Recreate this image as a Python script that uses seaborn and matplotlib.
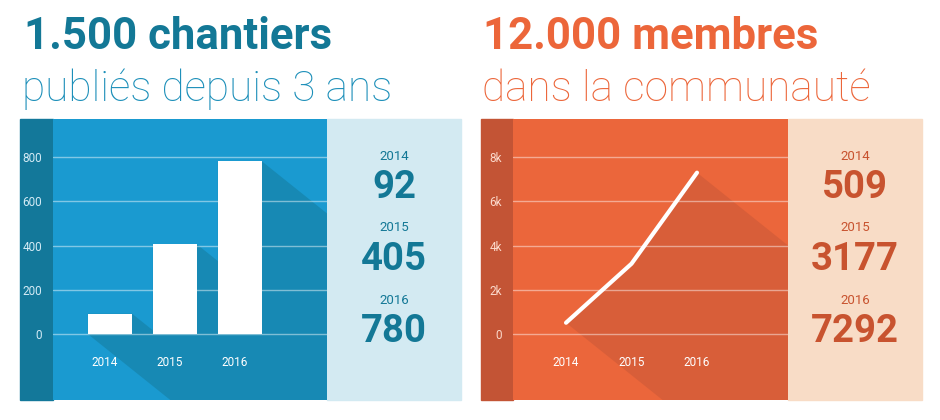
import numpy as np
import pandas as pd
import matplotlib.pyplot as plt
from matplotlib.patches import Rectangle, Polygon
from matplotlib.ticker import FuncFormatter
import seaborn as sns

# Data
years = ['2014', '2015', '2016']
chantiers = [92, 405, 780]
membres = [509, 3177, 7292]

# Colours
blue_bg = '#1a9ad0'
blue_dark = '#13789a'
blue_shadow = '#1789b4'
blue_light = '#d3eaf2'
blue_text = '#137896'
blue_sub = '#1c8fb9'
orange_bg = '#eb663b'
orange_dark = '#c35435'
orange_shadow = '#d85e39'
orange_light = '#f8dcc6'
orange_text = '#ec663a'
orange_val = '#c8532f'

sns.set_theme(style='white')
plt.rcParams['font.family'] = ['Roboto', 'DejaVu Sans']

W, H = 940, 420
fig = plt.figure(figsize=(9.4, 4.2), dpi=100)


def fx(px):
    return px / W


def fy(py):
    return 1 - py / H


def long_shadow(ax, front, back_pts, color, length=600, slope=0.8):
    # sweep points down-right in pixel space
    disp = ax.transData.transform(back_pts)
    shifted = disp + np.array([length, -slope * length])
    back = ax.transData.inverted().transform(shifted)
    poly = np.vstack([front, back])
    ax.add_patch(Polygon(poly, closed=True, facecolor=color, edgecolor='none', zorder=1))


def setup_panel(x0, x_axes, x_light, x_end, dark, light):
    top, bottom = 119, 400
    fig.patches.append(Rectangle((fx(x0), fy(bottom)), fx(x_axes - x0), (bottom - top) / H,
                                 transform=fig.transFigure, color=dark, zorder=-2))
    fig.patches.append(Rectangle((fx(x_light), fy(bottom)), fx(x_end - x_light), (bottom - top) / H,
                                 transform=fig.transFigure, color=light, zorder=-2))
    ax = fig.add_axes([fx(x_axes), fy(bottom), fx(x_light - x_axes), (bottom - top) / H])
    return ax


def style_axes(ax, bg, tick_color, yticks, shift=0.0):
    ax.set_facecolor(bg)
    for s in ax.spines.values():
        s.set_visible(False)
    ax.set_yticks(yticks)
    ax.set_xticks([])
    ax.tick_params(axis='y', length=0, pad=8, labelsize=8.5, labelcolor=tick_color)
    for t in yticks:
        ax.axhline(t, color='white', alpha=0.45, lw=1, zorder=2)
    ax.set_xlabel('')
    ax.set_ylabel('')
    for i, y in enumerate(years):
        ax.text(i + shift, 0.135, y, transform=ax.get_xaxis_transform(),
                ha='center', va='center', fontsize=8.5, color='white', zorder=5)


# Left panel: bars
ax1 = setup_panel(20, 53, 327, 461, blue_dark, blue_light)
df1 = pd.DataFrame({'year': years, 'value': chantiers})
sns.barplot(data=df1, x='year', y='value', ax=ax1, color='white', width=0.68,
            saturation=1, edgecolor='none', zorder=3)
ax1.set_xlim(-0.877, 3.34)
ax1.set_ylim(-298, 972)
style_axes(ax1, blue_bg, '#d4ebf5', [0, 200, 400, 600, 800], shift=-0.08)
for i, v in enumerate(chantiers):
    x0, x1 = i - 0.34, i + 0.34
    long_shadow(ax1, np.array([[x0, 0], [x0, v], [x1, v]]),
                np.array([[x1, v], [x1, 0], [x0, 0]]), blue_shadow)

# Right panel: line
ax2 = setup_panel(481, 513, 788, 922, orange_dark, orange_light)
df2 = pd.DataFrame({'pos': np.arange(len(years)), 'value': membres})
sns.lineplot(data=df2, x='pos', y='value', ax=ax2, color='white', lw=3, zorder=4)
ax2.set_xlim(-0.81, 3.39)
ax2.set_ylim(-2983, 9718)
style_axes(ax2, orange_bg, '#fbd9cb', [0, 2000, 4000, 6000, 8000])
ax2.yaxis.set_major_formatter(FuncFormatter(lambda v, p: '0' if v == 0 else f'{int(v / 1000)}k'))
pts = df2[['pos', 'value']].to_numpy(dtype=float)
long_shadow(ax2, pts, pts[[-1, 0]], orange_shadow)

# Value columns
for xc, vals, c_val in [(394, chantiers, blue_text), (855, membres, orange_val)]:
    for y_year, y_val, yr, v in zip([157, 228, 301], [188, 259, 332], years, vals):
        fig.text(fx(xc), fy(y_year), yr, ha='center', va='center', fontsize=9.5, color=c_val)
        fig.text(fx(xc), fy(y_val), str(v), ha='center', va='center', fontsize=27.5,
                 fontweight='bold', color=c_val)

# Titles
fig.text(fx(24), fy(49), '1.500 chantiers', fontsize=31.5, fontweight='bold', color=blue_text,
         va='baseline', ha='left')
fig.text(fx(22), fy(101), 'publiés depuis 3 ans', fontsize=30.5, fontweight=100, color=blue_sub,
         va='baseline', ha='left')
fig.text(fx(483), fy(49), '12.000 membres', fontsize=31.5, fontweight='bold', color=orange_text,
         va='baseline', ha='left')
fig.text(fx(482), fy(101), 'dans la communauté', fontsize=30.5, fontweight=100, color=orange_text,
         va='baseline', ha='left')

fig.savefig('out.png', dpi=100, facecolor='white')
